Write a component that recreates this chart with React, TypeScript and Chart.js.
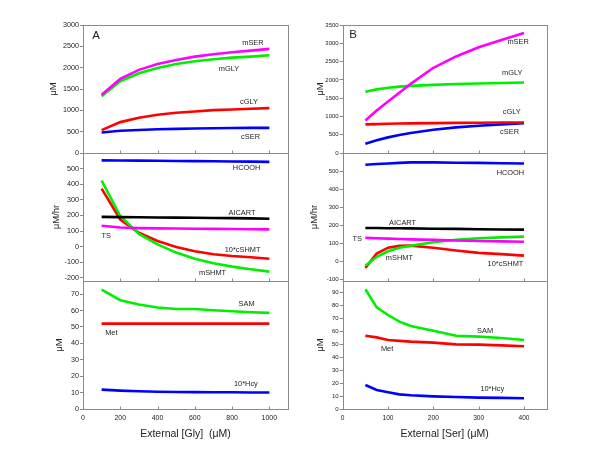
import React, { useEffect, useRef } from 'react';
import { Chart, registerables } from 'chart.js';
Chart.register(...registerables);

const FONT = "'Liberation Sans', Arial, sans-serif";
const TXT = '#222222';
const FRAME = '#8a8a8a';

// ---------- Panel A data (external glycine) ----------
const glyX = [100, 200, 300, 400, 500, 600, 700, 800, 900, 1000];
const aTopMSER = [1363, 1737, 1948, 2088, 2181, 2259, 2314, 2360, 2399, 2440];
const aTopMGLY = [1332, 1683, 1870, 1994, 2088, 2150, 2197, 2236, 2259, 2290];
const aTopCGLY = [537, 724, 826, 896, 943, 974, 1005, 1020, 1036, 1052];
const aTopCSER = [480, 520, 540, 555, 565, 575, 580, 585, 588, 590];
const aMidHCOOH = [553, 552, 551, 550, 549, 548, 547, 546, 545, 543];
const aMidAICART = [191, 189, 188, 187, 186, 185, 184, 183, 181, 179];
const aMidTS = [134, 123, 119, 117, 116, 115, 114, 113, 112, 111];
const aMidCSHMT = [372, 174, 89, 36, -2, -30, -49, -60, -68, -77];
const aMidMSHMT = [423, 196, 82, 15, -38, -77, -106, -128, -145, -160];
const aBotSAM = [72.8, 66.3, 63.7, 61.9, 60.9, 60.9, 60.2, 59.6, 59.0, 58.6];
const aBotMet = [52, 52, 52, 52, 52, 52, 52, 52, 52, 52];
const aBotHcy = [11.8, 11.2, 10.8, 10.5, 10.4, 10.3, 10.2, 10.2, 10.1, 10.1];

// ---------- Panel B data (external serine) ----------
const serX = [50, 75, 100, 125, 150, 200, 250, 300, 350, 400];
const bTopMSER = [890, 1160, 1410, 1650, 1890, 2330, 2640, 2890, 3090, 3280];
const bTopMGLY = [1673, 1740, 1782, 1815, 1836, 1864, 1885, 1900, 1915, 1927];
const bTopCGLY = [782, 790, 800, 805, 810, 818, 824, 828, 832, 836];
const bTopCSER = [255, 350, 427, 490, 545, 636, 700, 745, 782, 818];
const bMidHCOOH = [535, 539, 542, 545, 548, 548, 546, 545, 543, 542];
const bMidAICART = [184, 184, 183, 183, 182, 180, 179, 177, 176, 175];
const bMidTS = [129, 127, 125, 123, 121, 118, 115, 112, 110, 108];
const bMidMSHMT = [-26, 24, 55, 74, 86, 105, 119, 127, 132, 136];
const bMidCSHMT = [-37, 42, 75, 85, 86, 74, 59, 46, 39, 31];
const bBotSAM = [92.6, 78.6, 72.7, 67.6, 64.2, 60.6, 56.7, 56.0, 54.9, 53.4];
const bBotMet = [56.7, 55.4, 53.4, 52.7, 52.1, 51.3, 50.0, 49.8, 49.2, 48.5];
const bBotHcy = [18.6, 14.7, 12.9, 11.3, 10.6, 9.8, 9.3, 8.8, 8.6, 8.3];

// ---------- tick labels ----------
const aXTicks = [0, 200, 400, 600, 800, 1000];
const bXTicks = [0, 100, 200, 300, 400];
const aTopTicks = [0, 500, 1000, 1500, 2000, 2500, 3000];
const aMidTicks = [-200, -100, 0, 100, 200, 300, 400, 500];
const aBotTicks = [0, 10, 20, 30, 40, 50, 60, 70];
const bTopTicks = [0, 500, 1000, 1500, 2000, 2500, 3000, 3500];
const bMidTicks = [-100, 0, 100, 200, 300, 400, 500];
const bBotTicks = [0, 10, 20, 30, 40, 50, 60, 70, 80, 90];

const MAG = '#ff00ff';
const GRN = '#00ee00';
const RED = '#ff0000';
const BLU = '#0000ff';
const BLK = '#000000';

type DS = { values: number[]; color: string; axis: string };
type Lbl = { text: string; x: number; y: number; axis: string; size?: number };

const panelA = {
  xs: glyX,
  xMax: 1100,
  xTicks: aXTicks,
  sepTicks: [200, 400, 600, 800, 1000],
  xTitle: 'External [Gly]  (\u03bcM)',
  axisWidth: 83,
  padRight: 12,
  yTickSize: 7.2,
  xTickSize: 7,
  y: {
    yTop: { min: 0, max: 3000, ticks: aTopTicks, title: '\u03bcM', tpad: 47.5 },
    yMid: { min: -220, max: 600, ticks: aMidTicks, title: '\u03bcM/hr', tpad: 51 },
    yBot: { min: 0, max: 78, ticks: aBotTicks, title: '\u03bcM', tpad: 53.5 },
  } as Record<string, any>,
  datasets: [
    { values: aTopMSER, color: MAG, axis: 'yTop' },
    { values: aTopMGLY, color: GRN, axis: 'yTop' },
    { values: aTopCGLY, color: RED, axis: 'yTop' },
    { values: aTopCSER, color: BLU, axis: 'yTop' },
    { values: aMidHCOOH, color: BLU, axis: 'yMid' },
    { values: aMidAICART, color: BLK, axis: 'yMid' },
    { values: aMidTS, color: MAG, axis: 'yMid' },
    { values: aMidMSHMT, color: GRN, axis: 'yMid' },
    { values: aMidCSHMT, color: RED, axis: 'yMid' },
    { values: aBotSAM, color: GRN, axis: 'yBot' },
    { values: aBotMet, color: RED, axis: 'yBot' },
    { values: aBotHcy, color: BLU, axis: 'yBot' },
  ] as DS[],
  labels: [
    { text: 'A', x: 70, y: 2749, axis: 'yTop', size: 11.5 },
    { text: 'mSER', x: 912, y: 2571, axis: 'yTop' },
    { text: 'mGLY', x: 783, y: 1976, axis: 'yTop' },
    { text: 'cGLY', x: 891, y: 1203, axis: 'yTop' },
    { text: 'cSER', x: 899, y: 383, axis: 'yTop' },
    { text: 'HCOOH', x: 878, y: 505, axis: 'yMid' },
    { text: 'AICART', x: 853, y: 215, axis: 'yMid' },
    { text: 'TS', x: 125, y: 66, axis: 'yMid' },
    { text: '10*cSHMT', x: 856, y: -24, axis: 'yMid' },
    { text: 'mSHMT', x: 695, y: -170, axis: 'yMid' },
    { text: 'SAM', x: 878, y: 64.2, axis: 'yBot' },
    { text: 'Met', x: 152, y: 46.5, axis: 'yBot' },
    { text: '10*Hcy', x: 874, y: 15.4, axis: 'yBot' },
  ] as Lbl[],
};

const panelB = {
  xs: serX,
  xMax: 450,
  xTicks: bXTicks,
  sepTicks: [100, 200, 300, 400],
  xTitle: 'External [Ser] (\u03bcM)',
  axisWidth: 42.7,
  padRight: 53.3,
  yTickSize: 6,
  xTickSize: 6.6,
  y: {
    yTop: { min: 0, max: 3500, ticks: bTopTicks, title: '\u03bcM', tpad: 15 },
    yMid: { min: -110, max: 600, ticks: bMidTicks, title: '\u03bcM/hr', tpad: 9 },
    yBot: { min: 0, max: 99, ticks: bBotTicks, title: '\u03bcM', tpad: 15 },
  } as Record<string, any>,
  datasets: [
    { values: bTopMSER, color: MAG, axis: 'yTop' },
    { values: bTopMGLY, color: GRN, axis: 'yTop' },
    { values: bTopCGLY, color: RED, axis: 'yTop' },
    { values: bTopCSER, color: BLU, axis: 'yTop' },
    { values: bMidHCOOH, color: BLU, axis: 'yMid' },
    { values: bMidAICART, color: BLK, axis: 'yMid' },
    { values: bMidTS, color: MAG, axis: 'yMid' },
    { values: bMidMSHMT, color: GRN, axis: 'yMid' },
    { values: bMidCSHMT, color: RED, axis: 'yMid' },
    { values: bBotSAM, color: GRN, axis: 'yBot' },
    { values: bBotMet, color: RED, axis: 'yBot' },
    { values: bBotHcy, color: BLU, axis: 'yBot' },
  ] as DS[],
  labels: [
    { text: 'B', x: 23, y: 3227, axis: 'yTop', size: 11.5 },
    { text: 'mSER', x: 387, y: 3027, axis: 'yTop' },
    { text: 'mGLY', x: 374, y: 2179, axis: 'yTop' },
    { text: 'cGLY', x: 373, y: 1121, axis: 'yTop' },
    { text: 'cSER', x: 368, y: 566, axis: 'yTop' },
    { text: 'HCOOH', x: 370, y: 491, axis: 'yMid' },
    { text: 'AICART', x: 132, y: 211, axis: 'yMid' },
    { text: 'TS', x: 32, y: 124, axis: 'yMid' },
    { text: 'mSHMT', x: 125, y: 15, axis: 'yMid' },
    { text: '10*cSHMT', x: 359, y: -14, axis: 'yMid' },
    { text: 'SAM', x: 314, y: 60.7, axis: 'yBot' },
    { text: 'Met', x: 98, y: 46.7, axis: 'yBot' },
    { text: '10*Hcy', x: 330, y: 15.3, axis: 'yBot' },
  ] as Lbl[],
};

type PanelCfg = typeof panelA;

function makePlugin(cfg: PanelCfg) {
  return {
    id: 'frameAndLabels',
    beforeDatasetsDraw(chart: any) {
      const { ctx, chartArea: ca } = chart;
      const xs = chart.scales.x;
      ctx.save();
      ctx.strokeStyle = FRAME;
      ctx.lineWidth = 1;
      ctx.strokeRect(Math.round(ca.left) + 0.5, Math.round(ca.top) + 0.5,
        Math.round(ca.right - ca.left), Math.round(ca.bottom - ca.top));
      for (const id of ['yTop', 'yMid', 'yBot']) {
        const b = Math.round(chart.scales[id].bottom) + 0.5;
        ctx.beginPath();
        ctx.moveTo(ca.left, b);
        ctx.lineTo(ca.right, b);
        for (const t of cfg.sepTicks) {
          const px = Math.round(xs.getPixelForValue(t)) + 0.5;
          ctx.moveTo(px, b);
          ctx.lineTo(px, b - 3);
        }
        ctx.stroke();
      }
      ctx.restore();
    },
    afterDatasetsDraw(chart: any) {
      const { ctx } = chart;
      const xs = chart.scales.x;
      ctx.save();
      ctx.fillStyle = TXT;
      ctx.textAlign = 'center';
      ctx.textBaseline = 'middle';
      for (const l of cfg.labels) {
        const ys = chart.scales[l.axis];
        ctx.font = `${l.size || 7.4}px ${FONT}`;
        ctx.fillText(l.text, xs.getPixelForValue(l.x), ys.getPixelForValue(l.y));
      }
      ctx.restore();
    },
  };
}

function Panel({ cfg, left }: { cfg: PanelCfg; left: number }) {
  const ref = useRef<HTMLCanvasElement>(null);
  useEffect(() => {
    const yScales: Record<string, any> = {};
    const weights: Record<string, number> = { yTop: 3, yMid: 2, yBot: 1 };
    for (const id of ['yTop', 'yMid', 'yBot']) {
      const y = cfg.y[id];
      yScales[id] = {
        type: 'linear',
        position: 'left',
        stack: 'main',
        stackWeight: 1,
        weight: weights[id],
        min: y.min,
        max: y.max,
        afterBuildTicks: (s: any) => {
          s.ticks = y.ticks.map((v: number) => ({ value: v }));
        },
        afterFit: (s: any) => {
          s.width = cfg.axisWidth;
        },
        ticks: {
          font: { family: FONT, size: cfg.yTickSize },
          color: TXT,
          padding: 1,
          autoSkip: false,
          callback: (v: any) => String(v),
        },
        grid: { display: true, drawOnChartArea: false, drawTicks: true, tickLength: 3, tickColor: FRAME },
        border: { display: false },
        title: {
          display: true,
          text: y.title,
          color: TXT,
          font: { family: FONT, size: 9.5 },
          padding: { top: y.tpad, bottom: 0 },
        },
      };
    }
    const chart = new Chart(ref.current as HTMLCanvasElement, {
      type: 'line',
      data: {
        datasets: cfg.datasets.map((d) => ({
          data: cfg.xs.map((x, i) => ({ x, y: d.values[i] })),
          borderColor: d.color,
          backgroundColor: d.color,
          borderWidth: 2.6,
          pointRadius: 0,
          tension: 0,
          fill: false,
          yAxisID: d.axis,
          xAxisID: 'x',
        })),
      },
      options: {
        animation: false,
        responsive: false,
        events: [],
        layout: { padding: { top: 25, right: cfg.padRight, left: 0, bottom: 0 } },
        plugins: { legend: { display: false }, tooltip: { enabled: false } },
        scales: {
          x: {
            type: 'linear',
            position: 'bottom',
            min: 0,
            max: cfg.xMax,
            afterBuildTicks: (s: any) => {
              s.ticks = cfg.xTicks.map((v: number) => ({ value: v }));
            },
            afterFit: (s: any) => {
              s.height = 41;
            },
            ticks: {
              font: { family: FONT, size: cfg.xTickSize },
              color: TXT,
              padding: 2,
              maxRotation: 0,
              autoSkip: false,
              callback: (v: any) => String(v),
            },
            grid: { display: true, drawOnChartArea: false, drawTicks: true, tickLength: 3, tickColor: 'rgba(0,0,0,0)' },
            border: { display: false },
            title: {
              display: true,
              text: cfg.xTitle,
              color: TXT,
              font: { family: FONT, size: 10.5 },
              padding: { top: 0, bottom: 9.5 },
            },
          },
          ...yScales,
        },
      } as any,
      plugins: [makePlugin(cfg)],
    });
    return () => chart.destroy();
  }, [cfg]);
  return (
    <canvas
      ref={ref}
      width={300}
      height={450}
      style={{ position: 'absolute', left, top: 0, width: 300, height: 450 }}
    />
  );
}

export default function App() {
  return (
    <div style={{ position: 'fixed', left: 0, top: 0, width: 600, height: 450, background: '#ffffff' }}>
      <Panel cfg={panelA} left={0} />
      <Panel cfg={panelB} left={300} />
    </div>
  );
}
